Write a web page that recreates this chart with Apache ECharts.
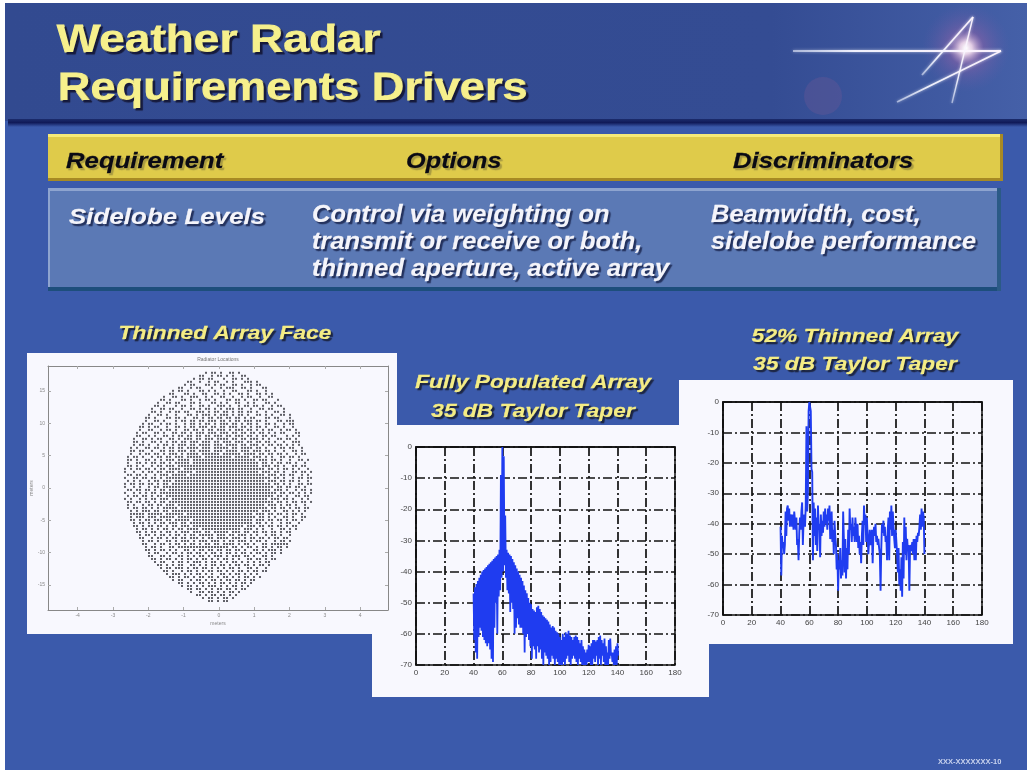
<!DOCTYPE html>
<html>
<head>
<meta charset="utf-8">
<style>
html, body { margin: 0; padding: 0; background: #fff; }
#main { width: 1027px; height: 772px; filter: blur(0.55px); }
</style>
<script src="https://cdn.jsdelivr.net/npm/echarts@6/dist/echarts.min.js"></script>
</head>
<body>
<div id="main"></div>
<script>
// table text
var titleLines = ['Weather Radar', 'Requirements Drivers'];
var tableHeads = ['Requirement', 'Options', 'Discriminators'];
var requirementText = 'Sidelobe Levels';
var optionLines = ['Control via weighting on', 'transmit or receive or both,', 'thinned aperture, active array'];
var discriminatorLines = ['Beamwidth, cost,', 'sidelobe performance'];

// tick labels
var faceXTicks = [-4, -3, -2, -1, 0, 1, 2, 3, 4];
var faceYTicks = [-15, -10, -5, 0, 5, 10, 15];

// thinned array face, one string per row of elements, top to bottom, x = element
var faceRows = [
'...........................x.xx.x..xx.x........................',
'.........................xx..x.xx.x.x..xx......................',
'.......................x.xx.xx...x..xx.x.x.....................',
'.....................xx..x..x.xx..x.x...xxx.x..................',
'....................x.xx...xx.x.xx..xx.x..x.xx.................',
'..................xx..x.xx...x..x.xxx..xx.x...xx...............',
'................x.xx.x...xx.x.x..x..xx...xx.x..x...............',
'...............xx...xx.x..xx..xx.x.x..xx.x..xx.x.x.............',
'.............x..xx.x..xxx..x.x..xx..x..x.xx..x..xx.............',
'............xx.x...xx.x..x.xx.x...xx.xx.x..xx.xx...x...........',
'...........x..xx.xx...xx.x...xx.x.x..xx..x.x...xx.x............',
'..........xx.x...x.xx.x..xx.x..xxx.x..x.xx.xx.x..x.xx..........',
'.........x..xx.xx..x..xx.x.xx.x.x.xxx.xx..x..xx.xx...x.........',
'.........xx.x..x.xx.xx..xxx.x.xx.xx.x.xx.xx.x..x..xx.x.........',
'........x..xx.x..x...xx.x.xxx.x.xxx.x.xx.x..xx.x.x..xx.x.......',
'.......xx.x...xx.xx.x..xx.x.xx.xx.xx.xx.x.xx...xx.xx...x.......',
'.......x..xx.x...x.xx.xx.xx.xxx.xx.x.xx.xxx.xx.x...xx.xxx......',
'......x.xx..x.xx.x..x.xx.x.xx.x.xxx.xx.x.xx.x..xx.x..x.xx......',
'.....xx.x.xx..x..xx.x.xx.xxx.xx.xx.xxx.xx.x.xx.x..xx.x..x......',
'.....x..xx..x.xx.x..xx.xx.x.xx.xxx.x.xxx.xx.x.x.xx..x.xx.x.....',
'....x.xx..xx.x..xx.xx.x.xxx.xxx.xxx.xx.xx.xx.xx.x.x.xx...xx....',
'....xx..x.x..xx.x.xx.xx.xx.xx.xxx.xx.xxx.xx.x.xx.xx...x.x.x....',
'...x..xx.x.xx..xx.x.xxx.xx.xxx.xxxx.xx.xx.xxx.x.x..xx.xx.x.....',
'...xx.x..xx.x.x.xx.xx.xxx.xxx.xx.xxx.xxx.xx.xx.xx.x..x..xxx....',
'...x.xx.x..x.xx.x.xxx.xx.xxxx.xxx.xxxx.xx.xxx.x.xx.xx.x.x.x....',
'..x.x..xx.xx.x.xx.xx.xxxx.xxx.xxxxx.xx.xxxx.xx.x..x.xx.xx..x...',
'..xx.xx..x..xx.xx.xxx.xx.xxxx.xxx.xxxx.xxx.xxx.xx.x..x..xx.x...',
'..x..x.xx.xx.x.xxx.x.xxxx.xxxxxx.xxxxxx.xxxx.xx.xx.xx.x..x.xx..',
'.x.xx.x..x.xx.xx.xxx.xxxxx.xxxxxxxxx.xxxxx.xxx.x.x..xx.xx.x....',
'.xx.x..xx.x.x.xxx.xxxx.xxxxxxxxxxxxxxxxxxxxx.xxx.xx.x..x..xx.x.',
'.x..xx.x.xx.xx.x.xxxxx.xxxxxxxxxxxxxxxxxxxxxx.xx.x.xx.xx.x..x..',
'.xx.x.x..x.xx.xxx.xxxxxxxxxxxxxxxxxxxxxxxxxxx.xxx.xx.x..xx.xx..',
'x.x.xx.xx.x.xx.xxxx.xxxxxxxxxxxxxxxxxxxxxxxxxxx.xx.x.xx.x.x..x.',
'x..x..x.xx.xx.xxx.xxxxx.xxxxxxxxxxxxxxxxxxxxx.xxx.xx.x..xx.xx.x',
'.xx.xx.x..x.xxx.xxxxx.xxxxxxxxxxxxxxxxxxxxxxxxx.xxx.xx.xx..x.x.',
'x..xx.xx.xx.x.xxxxxxxxxxxxxxxxxxxxxxxxxxxxxxxxxxx.xx.x..x.xx.xx',
'.x.x.x..x.xx.xxx.xxxxxxxxxxxxxxxxxxxxxxxxxxxxxx.xxx.xx.xx.x..x.',
'x.xx.xx.xx.x.xx.xxxxxxxxxxxxxxxxxxxxxxxxxxxxxxxxx.xx.x.x..xx.xx',
'x..x.x..x.xx.xxxxxxxxxxxxxxxxxxxxxxxxxxxxxxxxxxxxx.xx.xx.xx.x..',
'.xx.xx.xx.x.xx.xxxxxxxxxxxxxxxxxxxxxxxxxxxxxxxxxx.xxx.x..x.xx.x',
'x..x.x.x.xx.xxxxxxxxxxxxxxxxxxxxxxxxxxxxxxxxxxxxxxx.xx.xx.x.x.x',
'.x.xx.xx.x.xx.xxxxxxxxxxxxxxxxxxxxxxxxxxxxxxxxxxxx.xx.x..xx.xx.',
'x.x..x.x.xx.xxx.xxxxxxxxxxxxxxxxxxxxxxxxxxxxxxxx.xxx.xx.x..x.x.',
'.xx.xx.xx.x.xx.xxxxxxxxxxxxxxxxxxxxxxxxxxxxxxxxxxx.xx.x.xx.xx.x',
'.x.x..x.xx.xx.xxx.xxxxxxxxxxxxxxxxxxxxxxxxxxxxx.xxx.x.xx.x..x..',
'.x.xx.xx.x.x.xxxxx.xxxxxxxxxxxxxxxxxxxxxxxxxxxxx.xx.xx.x.xx.xx.',
'..x.x.xxx.xx.xx.xxxxxxxxxxxxxxxxxxxxxxxxxxxxx.xxx.x..xx.x.x.x..',
'..xxxxx.xxxxx.xxxxxx.xxxxxxxxxxxxxxxxxxxxxx.xxx.xx.xx.x.xx.x...',
'..x.xxx.xxx.xxxxx.xxxxxxxxxxxxxxxxxxxxxxxxxx.xx.x.x..xx.x..xx..',
'..xx.x.xx.xxx.xx.xxxxx.xxxxxxxxxxxxxxxxxxxx.xxx.xx.xx.x.xx.x...',
'...x.xx.x.x.xx.xxx.xx.xxxxxxxxxxxxxxxxxxxxx.xx.x.x..x.xx..x....',
'...xx.x.xx.xx.x.xx.xxx.xxxxxxxxxxxxxxxxx.xxx.xx.xx.xx.x.xx.....',
'....x.xx.x.x.xx.x.xx.xxxx.xxxxxxxxxxxxx.xxx.x.x..x..xx.x.x.....',
'....xx.x.xx.x.xx.x.xxx.xxx.xx.xxxxx.xxx.xx.xx.xx.xx.x.xx.......',
'.....x.xx.x.xx.x.xx.x.xx.xxxxx.xxx.xx.xxx.x.x..x.xx.x..x.......',
'.....xx..x.xx.x.xx.xx.xxx.x.xx.xxxx.xxx.x.xx.xx.x.xx.xx........',
'......x.xx.x..xx.x.xxx.x.xxx.xxx.x.xx.xxx.x.xx.x..x.xx.x.......',
'......xx..x.xx.x.xx.x.xx.x.xx.xx.xxxx.x.xx.x..xx.xxxxxx........',
'.......x.xx.x..xx.xxxxxxxxxxxxxxxxx.xx.x.xx.x.xx.x.xx.x........',
'.......xx.x.xx.x.x..xx.x.xx.xx.xx.xx.xx.x..xx.x.xxx.x..........',
'........x.xx..x.xx.x.xx.xx.x.xx.x.xx.x.xx.x.xx.x.xx.x..........',
'........xx..xx.x..xx.x.x.xx.x.xxx.x.xxx.xx.x..xx.x.............',
'.........xx.x.xx.x.x.xx.x.xx.x.x.xx.x.x..xx.xx.x.xx............',
'..........x.xx..x.xx.x.xxx.x.xx.x.x.xx.x.x.x.x.xx..............',
'...........xx.x.x.xx..xx.x.x.xx.xx.x.xx.xx.x.xx.x..............',
'............x.xx.xxx.x.xx.xx.x.x.x.xx.x..xx.x..x...............',
'.............xx.x..x.xx.x.x.xx.xx.x.x.xx.x.xx.xx...............',
'..............x.xxx.x.x.xx.x.x..xx.x.xx.x.x.x..................',
'...............xx.x.xx.x.xx.xx.x.xx.x.x.xx.x.x.................',
'................x.xx..x.xx.x.xx.x.xx.xx.x.xx...................',
'..................xx.x.x.xx.x.x.xx.x.x.xx.x....................',
'...................x.xx.x.x.xxx.x.x.xx.x.x.....................',
'.....................xx.xx.x.x.xx.xx.x.xx......................',
'......................x..xx.xx.x.x.xx.x........................',
'........................xx.x.xx.xx.x.x.........................',
'..........................x.xx.x.xx.x..........................',
'............................xx.x.xx............................'
];
var faceRowTopValue = 17.8;
var faceRowStep = 0.464;
var faceColLeftValue = -2.66;
var faceColStep = 0.085;

// fully populated array, response in dB at each degree from 40 to 140
var fullUpper = [
    -47, -45, -44, -43, -42, -41, -40, -39.5, -39, -38.5,
    -38, -37.5, -37, -36.5, -36, -35.5, -35, -34.5, -33, -9,
    0, -3, -22, -33, -34, -34.5, -35, -36, -37, -38,
    -39, -40, -41, -42, -43, -44.5, -46, -47, -48.5, -50,
    -50.5, -52, -52.5, -53, -51.5, -51, -52, -53, -54, -54.5,
    -55, -55.5, -56, -57, -58, -57.5, -58, -59, -59.5, -60,
    -61, -62, -60, -61, -59.5, -60, -59, -60.5, -61, -62,
    -61, -60.5, -61, -62, -63, -62, -64, -65, -66, -65,
    -63.5, -64, -63, -62, -62, -62.5, -62, -61, -60.5, -62,
    -63, -61.5, -64, -66, -62, -61.5, -66, -66, -65, -64,
    -63
];
var fullLower = [
    -62, -66, -68, -61, -58, -59, -61, -62, -63, -64,
    -63, -65, -68, -69, -58, -50, -60, -48, -46, -42,
    -40, -38, -42, -46, -47, -53, -50, -52, -60, -58,
    -55, -57, -58, -58, -60, -66, -61, -60, -62, -64,
    -68, -64, -65, -68, -64, -66, -65, -68, -70, -66,
    -67, -68, -70, -69, -67, -68, -70, -68, -69, -70,
    -70, -70, -69, -70, -68, -67, -69, -70, -68, -67,
    -68, -69, -70, -68, -69, -70, -70, -70, -70, -69,
    -69, -70, -70, -68, -69, -67, -70, -68, -70, -67,
    -69, -70, -70, -70, -68, -67, -69, -70, -70, -70,
    -67
];

// 52% thinned array, response in dB every half degree from 40 to 140
var thinnedValues = [
    -41, -57, -44, -48, -46, -50, -47, -36, -44, -35,
    -34, -39, -35, -41, -38, -37, -41, -37, -42, -36,
    -36, -42, -38, -47, -45, -52, -43, -38, -42, -36,
    -33, -47, -39, -37, -41, -34, -8, -36, -30, -3,
    0, 0, -3, -22, -23, -52, -33, -44, -35, -47,
    -38, -49, -34, -42, -40, -51, -37, -44, -39, -43,
    -36, -41, -35, -40, -37, -42, -35, -39, -34, -45,
    -44, -36, -46, -42, -50, -39, -44, -47, -55, -50,
    -62, -52, -55, -48, -58, -52, -57, -36, -45, -56,
    -45, -58, -48, -55, -42, -50, -35, -42, -40, -46,
    -38, -44, -41, -46, -38, -42, -46, -40, -48, -44,
    -50, -46, -53, -44, -39, -47, -34, -40, -37, -46,
    -38, -44, -50, -46, -42, -47, -45, -42, -53, -44,
    -41, -44, -40, -46, -44, -47, -45, -48, -50, -62,
    -48, -40, -43, -39, -44, -41, -46, -44, -52, -42,
    -38, -52, -36, -42, -34, -44, -36, -41, -45, -48,
    -42, -46, -50, -56, -48, -60, -55, -62, -51, -64,
    -46, -58, -38, -50, -41, -52, -45, -49, -47, -62,
    -48, -47, -49, -46, -50, -45, -52, -45, -52, -44,
    -46, -43, -44, -41, -37, -42, -35, -41, -36, -38,
    -50
];

function buildFaceData() {
    var out = [];
    for (var r = 0; r < faceRows.length; r++) {
        for (var c = 0; c < faceRows[r].length; c++) {
            if (faceRows[r].charAt(c) === 'x') {
                out.push([faceColLeftValue + c * faceColStep, faceRowTopValue - r * faceRowStep]);
            }
        }
    }
    return out;
}

function buildFullData() {
    var out = [];
    for (var i = 0; i < fullUpper.length; i++) {
        out.push([40 + i, fullUpper[i]]);
        out.push([40 + i + 0.5, fullLower[i]]);
    }
    return out;
}

function buildThinnedData() {
    var out = [];
    for (var i = 0; i < thinnedValues.length; i++) {
        out.push([40 + i * 0.5, thinnedValues[i]]);
    }
    return out;
}

var sansFont = '"Liberation Sans", Arial, sans-serif';

function slideRect(x, y, w, h, fill, z) {
    return { type: 'rect', silent: true, z: z, shape: { x: x, y: y, width: w, height: h }, style: { fill: fill } };
}

// star strokes fade out away from the glow
function slideLine(x1, y1, x2, y2, width) {
    return {
        type: 'line', silent: true, z: -20,
        shape: { x1: x1, y1: y1, x2: x2, y2: y2 },
        style: {
            stroke: {
                type: 'linear', x: x1, y: y1, x2: x2, y2: y2, global: true,
                colorStops: [
                    { offset: 0, color: 'rgba(235,240,255,0.55)' },
                    { offset: 0.3, color: 'rgba(245,245,255,0.95)' },
                    { offset: 1, color: 'rgba(255,245,255,0.95)' }
                ]
            },
            lineWidth: width, shadowBlur: 3, shadowColor: 'rgba(255,255,255,0.7)'
        }
    };
}

function slideText(text, x, y, size, style, fill, shadow, scaleX, heft) {
    return {
        type: 'text', silent: true, z: 50,
        x: x, y: y, scaleX: scaleX,
        style: {
            text: text,
            x: 0, y: 0,
            fill: fill,
            stroke: fill,
            lineWidth: heft,
            font: style + ' ' + size + 'px ' + sansFont,
            textVerticalAlign: 'middle',
            textShadowColor: shadow,
            textShadowOffsetX: 2,
            textShadowOffsetY: 2,
            textShadowBlur: 1
        }
    };
}

function captionText(text, cx, y) {
    return {
        type: 'text', silent: true, z: 50, x: cx, y: y, scaleX: 1.2,
        style: {
            text: text, x: 0, y: 0, fill: '#f4ec84', stroke: '#f4ec84', lineWidth: 0.4,
            font: 'italic bold 19px ' + sansFont,
            textAlign: 'center', textVerticalAlign: 'middle',
            textShadowColor: '#1a2340', textShadowOffsetX: 2, textShadowOffsetY: 2, textShadowBlur: 1
        }
    };
}

var glowFill = {
    type: 'radial', x: 0.5, y: 0.5, r: 0.5,
    colorStops: [
        { offset: 0, color: 'rgba(255,255,255,1)' },
        { offset: 0.14, color: 'rgba(255,225,240,0.85)' },
        { offset: 0.4, color: 'rgba(170,100,170,0.38)' },
        { offset: 1, color: 'rgba(110,90,170,0)' }
    ]
};

var slideElements = [
    slideRect(5, 3, 1022, 767, '#3b5aab', -40),
    {
        type: 'rect', silent: true, z: -39,
        shape: { x: 5, y: 3, width: 1022, height: 118 },
        style: {
            fill: {
                type: 'linear', x: 0, y: 0, x2: 1, y2: 0,
                colorStops: [
                    { offset: 0, color: '#324a90' },
                    { offset: 0.75, color: '#344c93' },
                    { offset: 1, color: '#4560a8' }
                ]
            }
        }
    },
    {
        type: 'rect', silent: true, z: -38,
        shape: { x: 8, y: 119, width: 1019, height: 8 },
        style: {
            fill: {
                type: 'linear', x: 0, y: 0, x2: 0, y2: 1,
                colorStops: [
                    { offset: 0, color: '#1c2c6c' },
                    { offset: 0.45, color: '#101a58' },
                    { offset: 1, color: '#3b5aab' }
                ]
            }
        }
    },
    { type: 'circle', silent: true, z: -30, shape: { cx: 823, cy: 96, r: 19 }, style: { fill: 'rgba(150,95,150,0.2)' } },
    { type: 'circle', silent: true, z: -30, shape: { cx: 966, cy: 48, r: 44 }, style: { fill: glowFill } },
    slideLine(793, 51, 1001, 51, 2),
    slideLine(922, 75, 973, 17, 1.8),
    slideLine(952, 103, 973, 17, 1.4),
    slideLine(897, 102, 1001, 51, 1.8),

    // table bars
    slideRect(48, 134, 955, 46, '#dfcb4a', -30),
    slideRect(48, 134, 955, 3, '#f6ea78', -29),
    slideRect(48, 178, 955, 3, '#a78a24', -29),
    slideRect(1000, 134, 3, 47, '#a78a24', -29),
    slideRect(48, 188, 952, 102, '#5b79b5', -30),
    slideRect(48, 188, 952, 3, '#8ea4cf', -29),
    slideRect(48, 188, 2, 102, '#8ea4cf', -29),
    slideRect(48, 287, 952, 4, '#1d4e7c', -29),
    slideRect(997, 188, 4, 103, '#2b5a86', -29),

    // picture cards
    slideRect(27, 353, 370, 281, '#f8f8fe', -25),
    slideRect(372, 425, 337, 272, '#f8f8fe', -24),
    slideRect(679, 380, 334, 264, '#f8f8fe', -23),

    slideText(titleLines[0], 57, 42, 38, 'bold', '#f6f08c', '#14183a', 1.21, 1),
    slideText(titleLines[1], 58, 90, 38, 'bold', '#f6f08c', '#14183a', 1.19, 1),
    slideText(tableHeads[0], 66, 162, 22, 'italic bold', '#0a0a14', '#a89a40', 1.17, 0.3),
    slideText(tableHeads[1], 406, 162, 22, 'italic bold', '#0a0a14', '#a89a40', 1.15, 0.3),
    slideText(tableHeads[2], 733, 162, 22, 'italic bold', '#0a0a14', '#a89a40', 1.17, 0.3),
    slideText(requirementText, 69, 218, 22, 'italic bold', '#f4f4fa', '#22305c', 1.18, 0.3),
    slideText(optionLines[0], 312, 215, 24, 'italic bold', '#f4f4fa', '#22305c', 1.063, 0.3),
    slideText(optionLines[1], 312, 242, 24, 'italic bold', '#f4f4fa', '#22305c', 1.063, 0.3),
    slideText(optionLines[2], 312, 269, 24, 'italic bold', '#f4f4fa', '#22305c', 1.063, 0.3),
    slideText(discriminatorLines[0], 711, 215, 24, 'italic bold', '#f4f4fa', '#22305c', 1.063, 0.3),
    slideText(discriminatorLines[1], 711, 242, 24, 'italic bold', '#f4f4fa', '#22305c', 1.063, 0.3),

    captionText('Thinned Array Face', 225, 334),
    captionText('Fully Populated Array', 533, 383),
    captionText('35 dB Taylor Taper', 533, 412),
    captionText('52% Thinned Array', 855, 337),
    captionText('35 dB Taylor Taper', 855, 365),

    {
        type: 'text', silent: true, z: 50, x: 938, y: 762,
        style: { text: 'XXX-XXXXXXX-10', x: 0, y: 0, fill: '#c8d2ee', font: 'bold 7.5px ' + sansFont, textVerticalAlign: 'middle' }
    },
    {
        type: 'text', silent: true, z: 50, x: 218, y: 360,
        style: { text: 'Radiator Locations', x: 0, y: 0, fill: '#777', font: '5px ' + sansFont, textAlign: 'center', textVerticalAlign: 'middle' }
    }
];

function plotXAxis(gridIndex) {
    return {
        type: 'value', gridIndex: gridIndex, min: 0, max: 180, interval: 20,
        axisLine: { lineStyle: { color: '#111', width: 1.5 } },
        axisTick: { show: false },
        axisLabel: { color: '#444', fontSize: 8, margin: 4, fontFamily: sansFont },
        splitLine: { show: true, lineStyle: { color: '#111', width: 1.7, type: [9, 3, 2, 3] } }
    };
}

function plotYAxis(gridIndex) {
    return {
        type: 'value', gridIndex: gridIndex, min: -70, max: 0, interval: 10,
        axisLine: { lineStyle: { color: '#111', width: 1.5 } },
        axisTick: { show: false },
        axisLabel: { color: '#444', fontSize: 8, margin: 4, fontFamily: sansFont },
        splitLine: { show: true, lineStyle: { color: '#111', width: 1.7, type: [9, 3, 2, 3] } }
    };
}

function faceXAxis(position) {
    return {
        type: 'value', gridIndex: 0, position: position, min: -4.84, max: 4.79,
        axisLine: { onZero: false, lineStyle: { color: '#888', width: 1 } },
        axisTick: { inside: true, length: 3, lineStyle: { color: '#aaa' }, customValues: faceXTicks },
        axisLabel: { show: position === 'bottom', color: '#888', fontSize: 5, margin: 3, customValues: faceXTicks, fontFamily: sansFont },
        splitLine: { show: false },
        name: position === 'bottom' ? 'meters' : '',
        nameLocation: 'middle', nameGap: 11,
        nameTextStyle: { color: '#888', fontSize: 5, fontFamily: sansFont }
    };
}

function faceYAxis(position) {
    return {
        type: 'value', gridIndex: 0, position: position, min: -18.85, max: 18.85,
        axisLine: { onZero: false, lineStyle: { color: '#888', width: 1 } },
        axisTick: { inside: true, length: 3, lineStyle: { color: '#aaa' }, customValues: faceYTicks },
        axisLabel: { show: position === 'left', color: '#888', fontSize: 5, margin: 3, customValues: faceYTicks, fontFamily: sansFont },
        splitLine: { show: false },
        name: position === 'left' ? 'meters' : '',
        nameLocation: 'middle', nameGap: 8,
        nameTextStyle: { color: '#888', fontSize: 5, fontFamily: sansFont }
    };
}

var chart = echarts.init(document.getElementById('main'), null, { renderer: 'canvas' });

chart.setOption({
    animation: false,
    backgroundColor: '#ffffff',
    graphic: { elements: slideElements },
    grid: [
        { left: 48, top: 366, width: 340, height: 244 },
        { left: 416, top: 447, width: 259, height: 218, show: true, borderColor: '#111', borderWidth: 1.5, backgroundColor: 'transparent' },
        { left: 723, top: 402, width: 259, height: 213, show: true, borderColor: '#111', borderWidth: 1.5, backgroundColor: 'transparent' }
    ],
    xAxis: [faceXAxis('bottom'), faceXAxis('top'), plotXAxis(1), plotXAxis(2)],
    yAxis: [faceYAxis('left'), faceYAxis('right'), plotYAxis(1), plotYAxis(2)],
    series: [{
        type: 'scatter', name: 'Thinned Array Face', xAxisIndex: 0, yAxisIndex: 0,
        data: buildFaceData(), symbol: 'rect', symbolSize: 2,
        itemStyle: { color: '#2e2e34', opacity: 0.75 }, silent: true
    }, {
        type: 'line', name: 'Fully Populated Array', xAxisIndex: 2, yAxisIndex: 2,
        data: buildFullData(), showSymbol: false,
        lineStyle: { color: '#1f3cf0', width: 1.8 }, silent: true
    }, {
        type: 'line', name: '52% Thinned Array', xAxisIndex: 3, yAxisIndex: 3,
        data: buildThinnedData(), showSymbol: false,
        lineStyle: { color: '#1f3cf0', width: 1.9 }, silent: true
    }]
});
</script>
</body>
</html>
